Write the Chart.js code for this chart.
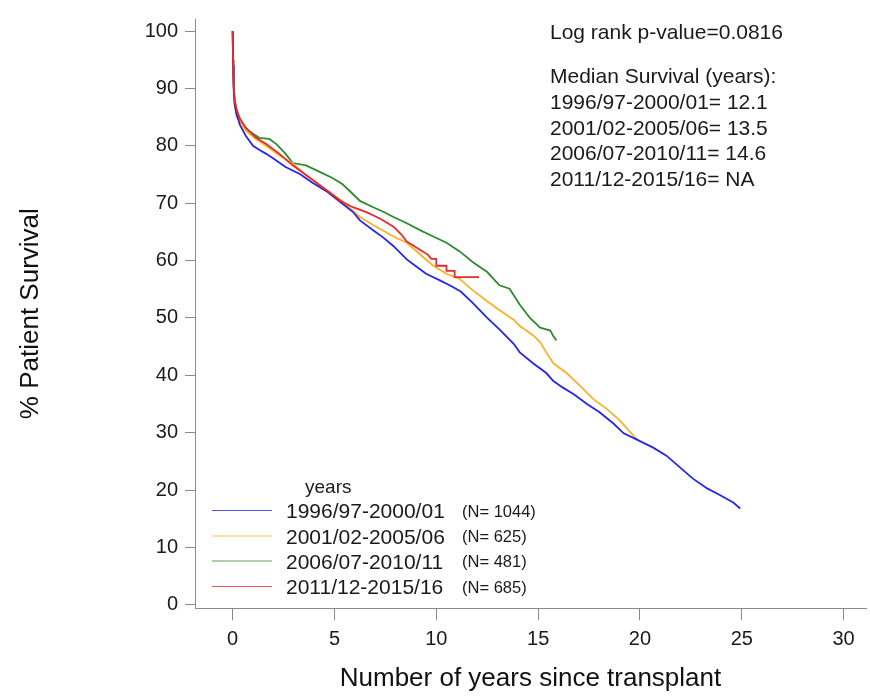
<!DOCTYPE html>
<html>
<head>
<meta charset="utf-8">
<title>Patient survival by transplant era</title>
<script src="https://cdn.jsdelivr.net/npm/chart.js@4.4.1/dist/chart.umd.min.js"></script>
<style>
  html, body { margin: 0; padding: 0; background: #ffffff; }
  #km { display: block; }
</style>
</head>
<body>
<canvas id="km" width="870" height="697"></canvas>
<script>
// Kaplan-Meier estimates: years since transplant and % surviving, per transplant era
const cohortLabels = ['1996/97-2000/01', '2001/02-2005/06', '2006/07-2010/11', '2011/12-2015/16'];
const cohortN = [1044, 625, 481, 685];
const medianSurvival = ['12.1', '13.5', '14.6', 'NA'];
const logRankP = '0.0816';

const years1996 = [0, 0.02, 0.05, 0.1, 0.2, 0.35, 0.65, 1.0, 1.3, 1.65, 2.0, 2.6, 3.3, 3.9, 4.6, 5.25, 5.9, 6.25, 6.9, 7.4, 7.9, 8.55, 9.0, 9.5, 10.2, 10.7, 11.2, 11.8, 12.5, 13.1, 13.8, 14.1, 14.75, 15.4, 15.75, 16.2, 16.75, 17.4, 18.0, 18.7, 19.2, 19.85, 20.65, 21.3, 21.95, 22.6, 23.3, 23.9, 24.6, 24.92];
const surv1996  = [100, 94, 90, 87.5, 85.5, 83.7, 81.7, 80.0, 79.3, 78.6, 77.8, 76.3, 75.1, 73.6, 72.1, 70.3, 68.5, 67.0, 65.3, 64.0, 62.5, 60.2, 59.0, 57.7, 56.5, 55.6, 54.6, 52.6, 50.0, 48.0, 45.5, 44.0, 42.1, 40.4, 39.0, 37.9, 36.7, 35.0, 33.6, 31.6, 29.9, 28.8, 27.4, 26.0, 24.0, 22.0, 20.3, 19.2, 17.8, 16.8];

const years2001 = [0, 0.02, 0.05, 0.1, 0.2, 0.35, 0.65, 1.15, 1.65, 2.3, 2.95, 3.6, 4.25, 4.9, 5.3, 5.6, 6.25, 6.9, 7.4, 7.9, 8.55, 9.2, 9.85, 10.5, 11.15, 11.8, 12.5, 13.1, 13.8, 14.1, 14.75, 15.1, 15.4, 15.75, 16.4, 17.05, 17.7, 18.35, 19.0, 19.7, 19.95];
const surv2001  = [100, 94, 90.5, 88, 86, 84.3, 82.6, 81.2, 80.0, 78.3, 76.9, 74.9, 73.2, 71.5, 70.6, 69.6, 67.6, 66.2, 65.2, 64.2, 63.1, 61.1, 59.1, 57.7, 56.8, 54.8, 52.9, 51.4, 49.7, 48.6, 47.0, 45.8, 44.0, 42.1, 40.4, 38.2, 35.9, 34.2, 32.2, 29.4, 28.6];

const years2006 = [0, 0.02, 0.05, 0.1, 0.2, 0.35, 0.8, 1.3, 1.8, 2.15, 2.6, 2.95, 3.6, 4.25, 4.9, 5.4, 5.9, 6.25, 6.9, 7.4, 7.9, 8.55, 9.2, 9.85, 10.5, 11.15, 11.8, 12.5, 13.1, 13.6, 14.1, 14.6, 15.1, 15.6, 15.75, 15.9];
const surv2006  = [100, 94, 90, 87, 85.2, 84.2, 82.6, 81.4, 81.2, 80.3, 78.6, 77.0, 76.6, 75.5, 74.4, 73.3, 71.6, 70.4, 69.3, 68.5, 67.6, 66.5, 65.3, 64.2, 63.1, 61.6, 59.7, 58.0, 55.7, 55.1, 52.3, 50.0, 48.3, 47.8, 46.8, 46.1];

const years2011 = [0, 0.02, 0.05, 0.1, 0.2, 0.35, 0.65, 1.15, 1.65, 2.3, 2.95, 3.6, 4.25, 4.9, 5.3, 5.9, 6.6, 7.25, 7.9, 8.3, 8.55, 9.2, 9.6, 9.75, 10.0, 10.0, 10.5, 10.5, 10.9, 10.9, 12.1];
const surv2011  = [100, 95, 91, 88, 86.3, 84.8, 83.1, 81.4, 80.3, 78.6, 76.6, 74.9, 73.2, 71.5, 70.4, 69.3, 68.4, 67.3, 65.9, 64.5, 63.3, 61.9, 61.0, 60.3, 60.3, 59.1, 59.1, 58.2, 58.2, 57.1, 57.1];

const xTickValues = [0, 5, 10, 15, 20, 25, 30];
const yTickValues = [0, 10, 20, 30, 40, 50, 60, 70, 80, 90, 100];

const eraColors = ['#2626e6', '#f5b22a', '#2f8a2f', '#ea2a2a'];
const FONT = '"Liberation Sans", Arial, Helvetica, sans-serif';

function toPoints(xs, ys) {
  return xs.map((x, i) => ({ x: x, y: ys[i] }));
}

const series = [
  { t: years1996, s: surv1996, order: 2 },
  { t: years2001, s: surv2001, order: 3 },
  { t: years2006, s: surv2006, order: 4 },
  { t: years2011, s: surv2011, order: 1 }
];

const datasets = series.map((d, i) => ({
  label: cohortLabels[i],
  data: toPoints(d.t, d.s),
  borderColor: eraColors[i],
  backgroundColor: eraColors[i],
  borderWidth: 1.8,
  pointRadius: 0,
  tension: 0,
  fill: false,
  order: d.order
}));

// Legend block and the test / median summary are painted on top of the plot
const notesPlugin = {
  id: 'kmNotes',
  afterDraw(chart) {
    const ctx = chart.ctx;
    ctx.save();
    ctx.fillStyle = '#1a1a1a';
    ctx.textAlign = 'left';
    ctx.textBaseline = 'alphabetic';

    ctx.font = '21px ' + FONT;
    ctx.fillText('Log rank p-value=' + logRankP, 550, 39);
    ctx.fillText('Median Survival (years):', 550, 83);
    cohortLabels.forEach((lab, i) => {
      ctx.fillText(lab + '= ' + medianSurvival[i], 550, 109 + i * 25.5);
    });

    ctx.font = '19px ' + FONT;
    ctx.fillText('years', 305, 493);
    const rows = [510.5, 536, 561, 586.5];
    cohortLabels.forEach((lab, i) => {
      const y = rows[i];
      ctx.strokeStyle = eraColors[i];
      ctx.globalAlpha = 0.8;
      ctx.lineWidth = 1.2;
      ctx.beginPath();
      ctx.moveTo(212, y);
      ctx.lineTo(272, y);
      ctx.stroke();
      ctx.globalAlpha = 1;
      ctx.font = '21px ' + FONT;
      ctx.fillText(lab, 286, y + 7.5);
      ctx.font = '16.5px ' + FONT;
      ctx.fillText('(N= ' + cohortN[i] + ')', 462, y + 6);
    });
    ctx.restore();
  }
};

new Chart(document.getElementById('km'), {
  type: 'line',
  data: { datasets: datasets },
  plugins: [notesPlugin],
  options: {
    responsive: false,
    animation: false,
    devicePixelRatio: 1,
    layout: { padding: { top: 3.3, right: 4, left: 0, bottom: 0 } },
    plugins: { legend: { display: false }, tooltip: { enabled: false } },
    scales: {
      x: {
        type: 'linear',
        min: -1.85,
        max: 31.1,
        afterBuildTicks: (s) => { s.ticks = xTickValues.map(v => ({ value: v })); },
        afterFit: (s) => { s.height = 88.7; },
        grid: { drawOnChartArea: false, drawTicks: true, tickLength: 12, color: '#8a8a8a', lineWidth: 1 },
        border: { display: true, color: '#8a8a8a', width: 1 },
        ticks: { font: { size: 20, family: FONT }, color: '#1a1a1a', padding: 7, maxRotation: 0, autoSkip: false },
        title: { display: true, text: 'Number of years since transplant', color: '#111', font: { size: 26, family: FONT }, padding: { top: 4, bottom: 3 } }
      },
      y: {
        type: 'linear',
        min: -0.6,
        max: 102.1,
        afterBuildTicks: (s) => { s.ticks = yTickValues.map(v => ({ value: v })); },
        afterFit: (s) => { s.width = 195; },
        grid: { drawOnChartArea: false, drawTicks: true, tickLength: 10, color: '#8a8a8a', lineWidth: 1 },
        border: { display: true, color: '#8a8a8a', width: 1 },
        ticks: { font: { size: 20, family: FONT }, color: '#1a1a1a', padding: 7, autoSkip: false },
        title: { display: true, text: '% Patient Survival', color: '#111', font: { size: 26, family: FONT }, padding: { top: 15, bottom: 4 } }
      }
    }
  }
});
</script>
</body>
</html>
